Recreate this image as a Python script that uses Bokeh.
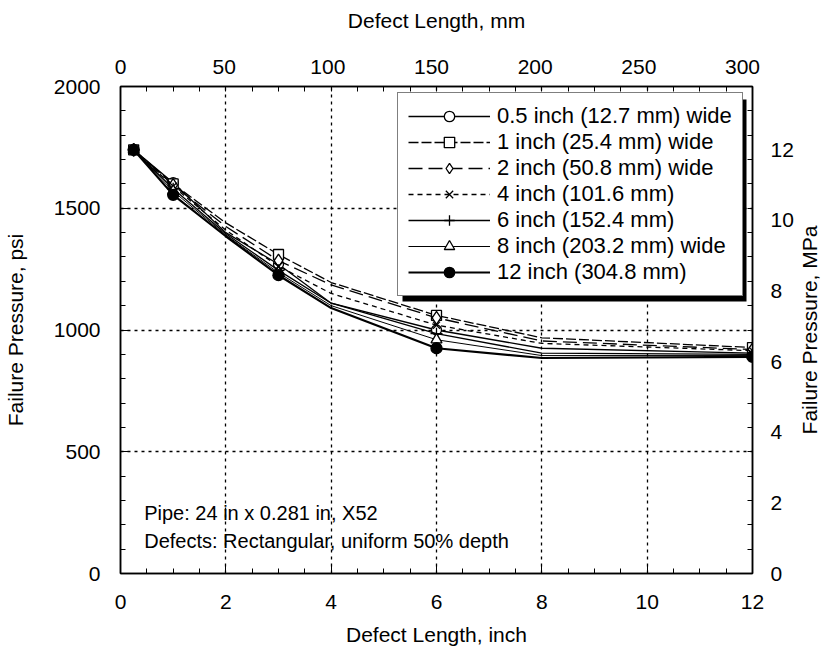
import math
from bokeh.plotting import figure
from bokeh.models import (Range1d, LinearAxis, SingleIntervalTicker, FixedTicker,
                          Legend, LegendItem, Label, BoxAnnotation)
from bokeh.embed import file_html
from bokeh.resources import INLINE

# ---------------- data ----------------
length_in = [0.25, 1, 2, 3, 4, 6, 8, 12]          # defect length, inch
marker_length_in = [0.25, 1, 3, 6, 12]            # points carrying markers

labels = ["0.5 inch (12.7 mm) wide", "1 inch (25.4 mm) wide", "2 inch (50.8 mm) wide",
          "4 inch (101.6 mm)", "6 inch (152.4 mm)", "8 inch (203.2 mm) wide",
          "12 inch (304.8 mm)"]

p_w05 = [1740, 1605, 1400, 1270, 1110, 1000, 925, 905]
p_w1  = [1740, 1600, 1440, 1310, 1195, 1060, 968, 928]
p_w2  = [1740, 1595, 1425, 1285, 1185, 1050, 955, 920]
p_w4  = [1740, 1590, 1410, 1262, 1150, 1020, 945, 915]
p_w6  = [1740, 1580, 1395, 1245, 1110, 985, 905, 900]
p_w8  = [1740, 1570, 1390, 1235, 1100, 960, 895, 895]
p_w12 = [1740, 1555, 1385, 1225, 1090, 925, 885, 890]

series = [p_w05, p_w1, p_w2, p_w4, p_w6, p_w8, p_w12]

x_ticks_mm = [0, 50, 100, 150, 200, 250, 300]
y_ticks_mpa = [0, 2, 4, 6, 8, 10, 12]

note_lines = ["Pipe: 24 in x 0.281 in, X52", "Defects: Rectangular, uniform 50% depth"]

# ---------------- style ----------------
FONT = "Liberation Sans"
styles = [
    dict(dash="solid", width=1.3, marker="circle", fill="white", size=10),
    dict(dash="10 3", width=1.3, marker="square", fill="white", size=10),
    dict(dash="14 6", width=1.3, marker="diamond", fill="white", size=13),
    dict(dash="5 4", width=1.3, marker="x", fill="white", size=10),
    dict(dash="solid", width=1.3, marker="cross", fill="white", size=12),
    dict(dash="solid", width=1.0, marker="triangle", fill="white", size=11),
    dict(dash="solid", width=2.2, marker="circle", fill="black", size=11),
]

X0, X1 = 0, 12
Y0, Y1 = 0, 2000
PSI_TO_MPA = 0.006894757
IN_TO_MM = 25.4
FRAME_W, FRAME_H = 632, 487
B_LEFT, B_RIGHT, B_TOP, B_BOTTOM = 119, 72, 86, 78

p = figure(frame_width=FRAME_W, frame_height=FRAME_H,
           x_range=Range1d(X0, X1), y_range=Range1d(Y0, Y1),
           output_backend="svg", toolbar_location=None,
           min_border_left=B_LEFT, min_border_right=B_RIGHT,
           min_border_top=B_TOP, min_border_bottom=B_BOTTOM)
p.background_fill_color = "white"
p.border_fill_color = "white"
p.outline_line_color = "black"
p.outline_line_width = 1.5

p.extra_x_ranges = {"mm": Range1d(X0 * IN_TO_MM, X1 * IN_TO_MM)}
p.extra_y_ranges = {"mpa": Range1d(Y0 * PSI_TO_MPA, Y1 * PSI_TO_MPA)}


def style_axis(ax, standoff, title_standoff):
    ax.axis_line_color = "black"
    ax.axis_line_width = 1.5
    ax.major_tick_line_color = "black"
    ax.minor_tick_line_color = "black"
    ax.major_tick_in = 8
    ax.major_tick_out = 0
    ax.minor_tick_in = 5
    ax.minor_tick_out = 0
    ax.major_label_text_font = FONT
    ax.major_label_text_font_size = "21px"
    ax.major_label_text_color = "black"
    ax.major_label_standoff = standoff
    ax.axis_label_text_font = FONT
    ax.axis_label_text_font_size = "21px"
    ax.axis_label_text_font_style = "normal"
    ax.axis_label_text_color = "black"
    ax.axis_label_standoff = title_standoff


xa = p.xaxis[0]
xa.ticker = SingleIntervalTicker(interval=2, num_minor_ticks=4)
xa.axis_label = "Defect Length, inch"
style_axis(xa, 21, 11)

ya = p.yaxis[0]
ya.ticker = SingleIntervalTicker(interval=500, num_minor_ticks=5)
ya.axis_label = "Failure Pressure, psi"
style_axis(ya, 20, 24)

# top: mm labels; its minor ticks mirror the half-inch ticks of the bottom axis
mm_minor = [i * 0.5 * IN_TO_MM for i in range(int(X1 / 0.5) + 1)]
mm_axis = LinearAxis(x_range_name="mm",
                     ticker=FixedTicker(ticks=x_ticks_mm, minor_ticks=mm_minor),
                     axis_label="Defect Length, mm")
style_axis(mm_axis, 13, 25)
mm_axis.major_tick_line_color = None
p.add_layout(mm_axis, "above")

# right: MPa labels; its minor ticks mirror the 100 psi ticks of the left axis
mpa_minor = [i * 100 * PSI_TO_MPA for i in range(int(Y1 / 100) + 1)]
mpa_axis = LinearAxis(y_range_name="mpa",
                      ticker=FixedTicker(ticks=y_ticks_mpa, minor_ticks=mpa_minor))
style_axis(mpa_axis, 18, 0)
mpa_axis.major_tick_line_color = None
p.add_layout(mpa_axis, "right")

# right-hand axis title, reading upwards, in the right border (canvas px)
p.add_layout(Label(x=B_LEFT + FRAME_W + 58, y=B_TOP + FRAME_H / 2,
                   x_units="canvas", y_units="canvas",
                   text="Failure Pressure, MPa", angle=math.pi / 2,
                   text_font=FONT, text_font_size="21px", text_color="black",
                   text_align="center", text_baseline="middle"), "right")

for g in (p.xgrid[0], p.ygrid[0]):
    g.grid_line_color = "black"
    g.grid_line_dash = "3 4"
    g.grid_line_width = 1.3

# ---------------- series ----------------
items = []
for lab, vals, st in zip(labels, series, styles):
    lr = p.line(length_in, vals, line_color="black", line_width=st["width"],
                line_dash=st["dash"])
    my = [vals[length_in.index(x)] for x in marker_length_in]
    mr = p.scatter(marker_length_in, my, marker=st["marker"], size=st["size"],
                   line_color="black", line_width=1.3, fill_color=st["fill"])
    items.append(LegendItem(label=lab, renderers=[lr, mr]))

# legend geometry (screen px relative to the frame's bottom-left corner)
LEG_X, LEG_Y = 277, 277
PAD, ROW, N = 10, 26, len(labels)
GLYPH_W, STANDOFF, TEXT_W = 82, 7, 235
LEG_W = 2 * PAD + GLYPH_W + STANDOFF + TEXT_W
LEG_H = 2 * PAD + ROW * N
SHADOW = 5
sx = (X1 - X0) / FRAME_W
sy = (Y1 - Y0) / FRAME_H
shadow = BoxAnnotation(left=X0 + (LEG_X + SHADOW) * sx,
                       right=X0 + (LEG_X + LEG_W + SHADOW) * sx,
                       bottom=Y0 + (LEG_Y - SHADOW) * sy,
                       top=Y0 + (LEG_Y + LEG_H - SHADOW) * sy,
                       fill_color="black", fill_alpha=1.0, line_color=None)
p.add_layout(shadow)

legend = Legend(items=items, location=(LEG_X, LEG_Y), padding=PAD, spacing=0, margin=0,
                glyph_width=GLYPH_W, glyph_height=ROW, label_height=ROW,
                label_standoff=STANDOFF,
                label_text_font=FONT, label_text_font_size="22px", label_text_color="black",
                border_line_color="black", border_line_width=1.5,
                background_fill_color="white", background_fill_alpha=1.0)
p.add_layout(legend, "center")

for i, t in enumerate(note_lines):
    p.add_layout(Label(x=0.45, y=250 - i * 115, text=t, text_font=FONT,
                       text_font_size="20px", text_color="black", text_baseline="middle"))

open("out.html", "w").write(file_html(p, INLINE))
